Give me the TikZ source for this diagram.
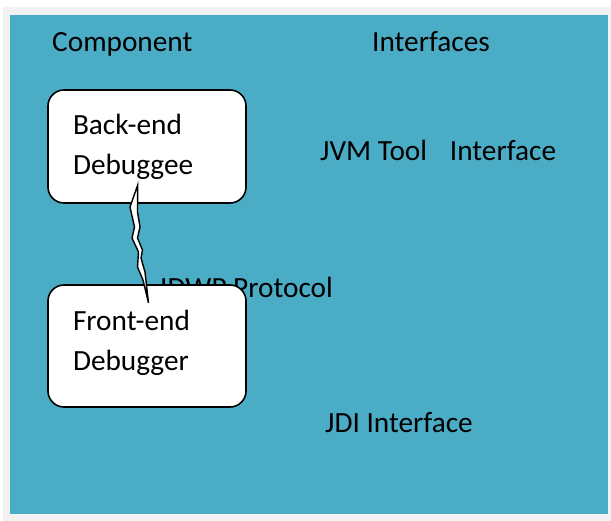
\documentclass[tikz,border=0pt]{standalone}
\usepackage{fontspec}
\setmainfont{Carlito}
\definecolor{panelteal}{HTML}{4BACC6}
\definecolor{framegrey}{HTML}{F2F2F2}
\begin{document}
\begin{tikzpicture}[x=1pt, y=-1pt,
    label/.style={anchor=base west, inner sep=0pt, font=\fontsize{29.3}{40}\selectfont},
    compbox/.style={rectangle, rounded corners=16pt, draw, line width=1.6pt, fill=white, minimum width=198pt, text width=148pt, inner xsep=25pt, align=left, font=\fontsize{29.3}{40}\selectfont},
    bolt/.style={draw, fill=white, line width=1.4pt, line join=miter}
]
\useasboundingbox (0,0) rectangle (611,521);
% Background
\fill[white] (0,0) rectangle (611,521);
\fill[framegrey] (3,7) rectangle (611,521);
\fill[panelteal] (10,15) rectangle (608,514);

% Headings
\node[label] (comp) at (52,52) {Component};
\node[label] (intf) at (372,52) {Interfaces};

% Interfaces
\node[label] (jvmti) at (320,161) {JVM Tool\ \ \ \hspace{3pt}Interface};
\node[label] (jdwp) at (160,298) {IDWP Protocol};
\node[label] (jdi) at (325,433) {JDI Interface};

% Components
\node[compbox, minimum height=113pt] (backend) at (147,146.5) {Back-end\\Debuggee};
\node[compbox, minimum height=122pt, text depth=52pt] (frontend) at (147,346) {Front-end\\Debugger};

% Link
\draw[bolt] (137.7,185) -- (130,207) -- (134.5,227) -- (132,238) -- (138.5,252)
    -- (137.5,267) -- (143,280) -- (148.5,303) -- (145,272) -- (141,258)
    -- (142.5,250) -- (137.5,238) -- (140,227) -- (137.5,212) -- cycle;
\end{tikzpicture}
\end{document}
